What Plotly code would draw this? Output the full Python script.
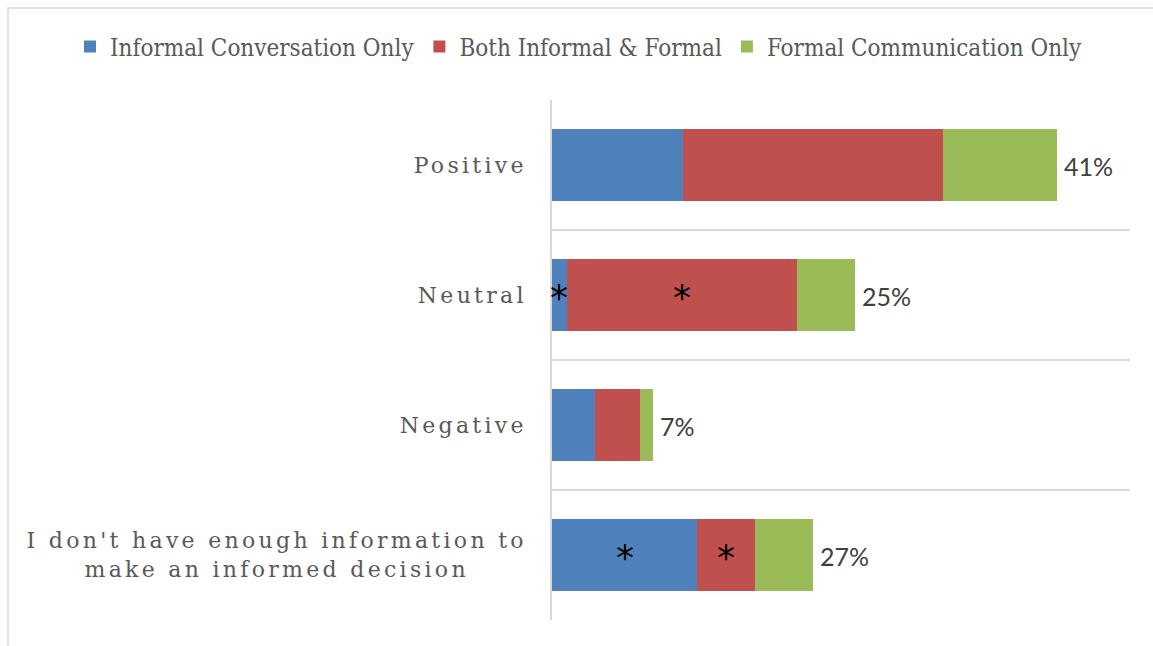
import plotly.graph_objects as go

categories = ["Positive", "Neutral", "Negative",
              "I don't have enough information to<br>make an informed decision"]
series_names = ["Informal Conversation Only", "Both Informal & Formal", "Formal Communication Only"]
informal_only = [10.6, 1.2, 3.5, 11.8]
both = [21.1, 18.7, 3.6, 4.7]
formal_only = [9.3, 4.7, 1.1, 4.7]
total_labels = ["41%", "25%", "7%", "27%"]
informal_stars = ["", "*", "", "*"]
both_stars = ["", "*", "", "*"]

colors = ["#4F81BD", "#C0504D", "#9BBB59"]
W, H = 1153, 646
L, R, T, B = 552, 23, 100, 26

fig = go.Figure()
for name, vals, col in zip(series_names, [informal_only, both, formal_only], colors):
    fig.add_trace(go.Bar(y=categories, x=vals, name=name, orientation="h",
                         marker=dict(color=col, line=dict(width=0)),
                         hoverinfo="skip"))

star_font = dict(family="DejaVu Sans", size=36, color="#000000")
annotations = []
for i, cat in enumerate(categories):
    tot = informal_only[i] + both[i] + formal_only[i]
    annotations.append(dict(x=tot, y=cat, xref="x", yref="y", text=total_labels[i],
                            showarrow=False, xanchor="left", xshift=5, yshift=-1,
                            font=dict(family="Lato, Liberation Sans, sans-serif", size=25, color="#404040")))
    if informal_stars[i]:
        annotations.append(dict(x=informal_only[i] / 2, y=cat, xref="x", yref="y", text=informal_stars[i],
                                showarrow=False, xanchor="center", yshift=-2, font=star_font))
    if both_stars[i]:
        annotations.append(dict(x=informal_only[i] + both[i] / 2, y=cat, xref="x", yref="y", text=both_stars[i],
                                showarrow=False, xanchor="center", yshift=-2, font=star_font))

pw, ph = W - L - R, H - T - B
fx0 = (8 - L) / pw
fx1 = (W + 5 - L) / pw
fy0 = -(B + 5) / ph
fy1 = (H - B - 8) / ph

fig.update_layout(
    width=W, height=H,
    margin=dict(l=L, r=R, t=T, b=B, autoexpand=False),
    barmode="stack", bargap=0.45,
    plot_bgcolor="white", paper_bgcolor="white",
    showlegend=True,
    legend=dict(orientation="h", xref="paper", yref="paper",
                x=(70 - L) / pw, xanchor="left", y=1 + (T - 47) / ph, yanchor="middle",
                font=dict(family="DejaVu Serif Condensed, DejaVu Serif, serif", size=24, color="#595959"),
                itemwidth=30, traceorder="normal", bgcolor="rgba(0,0,0,0)"),
    xaxis=dict(range=[0, 46.9], showgrid=False, showticklabels=False, zeroline=False,
               showline=False, ticks=""),
    yaxis=dict(autorange="reversed", type="category", tickson="boundaries",
               showgrid=True, gridcolor="#D9D9D9", gridwidth=1.5,
               showline=True, linecolor="#D9D9D9", linewidth=1.5,
               ticks="", ticklabelstandoff=19,
               tickfont=dict(family="DejaVu Serif, Liberation Serif, serif", size=22, color="#595959")),
    annotations=annotations,
    shapes=[dict(type="rect", xref="paper", yref="paper", x0=fx0, x1=fx1, y0=fy0, y1=fy1,
                 line=dict(color="#D9D9D9", width=1.5), layer="below")],
)

post = """
document.body.style.margin = '0';
document.body.style.overflow = 'hidden';
var gd = document.getElementById('{plot_id}');
function fixLabels(){
  gd.querySelectorAll('.ytick text').forEach(function(t){
    t.style.letterSpacing = '3.3px';
    var tsp = t.querySelectorAll('tspan.line');
    if (tsp.length > 1) {
      t.setAttribute('text-anchor', 'end');
      tsp.forEach(function(s){ s.setAttribute('text-anchor', 'end'); });
      var bb = t.getBBox();
      var cx = bb.x + bb.width / 2;
      t.setAttribute('text-anchor', 'middle');
      tsp.forEach(function(s){ s.setAttribute('x', cx); s.setAttribute('text-anchor', 'middle'); });
    }
  });
}
fixLabels();
gd.on('plotly_afterplot', fixLabels);
"""

fig.write_html("out.html", post_script=post, config={"displayModeBar": False})
